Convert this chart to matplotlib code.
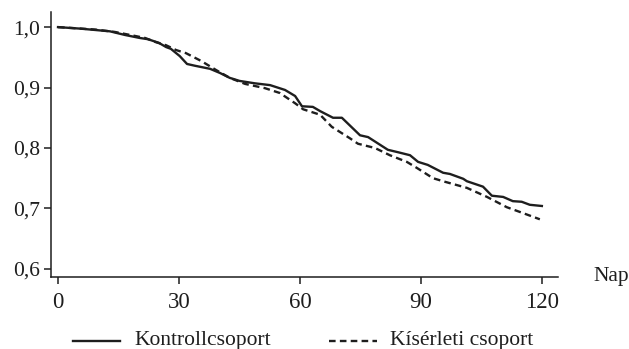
import matplotlib
matplotlib.use("Agg")
import matplotlib.pyplot as plt
from matplotlib.lines import Line2D

plt.rcParams['font.family'] = ['Liberation Serif', 'DejaVu Serif']

# Control group (Kontrollcsoport)
ctrl_day = [0, 5.5, 12.9, 16.6, 20.3, 22.3, 25, 26.8, 28, 30.2, 32, 34, 37.7, 40.2, 42.6, 45,
            48.8, 52.6, 56.3, 58.8, 60.5, 63.2, 65, 68.2, 70.4, 74.9, 76.9, 81.8, 84.3, 87.3,
            89.3, 91.7, 95.5, 97.2, 100.5, 101.4, 105.4, 107.6, 110.4, 112.8, 115, 117, 120]
ctrl_val = [1.0, 0.9975, 0.993, 0.987, 0.982, 0.980, 0.974, 0.967, 0.964, 0.952, 0.939, 0.936,
            0.931, 0.924, 0.916, 0.911, 0.907, 0.904, 0.896, 0.886, 0.869, 0.868, 0.861, 0.850,
            0.850, 0.821, 0.818, 0.797, 0.793, 0.788, 0.777, 0.772, 0.759, 0.757, 0.749, 0.745,
            0.736, 0.721, 0.719, 0.712, 0.711, 0.706, 0.704]

# Experimental group (Kísérleti csoport)
exp_day = [0, 9.2, 14.1, 17.9, 21.6, 24.3, 26.8, 29.3, 31.7, 35.5, 39.2, 42.6, 46.4, 51.3, 55,
           58.8, 60.8, 65, 67.9, 72.4, 74.4, 78.6, 82.3, 86.5, 89, 93, 96, 101.4, 106.4, 111.3,
           114.6, 119.5]
exp_val = [1.0, 0.996, 0.992, 0.987, 0.982, 0.975, 0.970, 0.962, 0.957, 0.944, 0.929, 0.916,
           0.906, 0.899, 0.891, 0.874, 0.864, 0.855, 0.835, 0.816, 0.807, 0.800, 0.788, 0.777,
           0.767, 0.750, 0.744, 0.734, 0.719, 0.702, 0.694, 0.682]

x_ticks = [0, 30, 60, 90, 120]
y_ticks = [0.6, 0.7, 0.8, 0.9, 1.0]
y_tick_labels = ["0,6", "0,7", "0,8", "0,9", "1,0"]

col = "#1e1e1e"
fs = 15.5

fig = plt.figure(figsize=(6.29, 3.49), dpi=100)
ax = fig.add_axes([51/629, 1 - 276.7/349, (558 - 51)/629, (276.7 - 12)/349])

ax.plot(ctrl_day, ctrl_val, color=col, lw=1.7, ls='-')
ax.plot(exp_day, exp_val, color=col, lw=1.7, ls=(0, (2.8, 1.8)))

ax.set_xlim(-1.74, 124.0)
ax.set_ylim(0.587, 1.025)
ax.set_xticks(x_ticks)
ax.set_xticklabels([str(t) for t in x_ticks], fontsize=16.5)
ax.set_yticks(y_ticks)
ax.set_yticklabels(y_tick_labels)

for s in ['top', 'right']:
    ax.spines[s].set_visible(False)
for s in ['left', 'bottom']:
    ax.spines[s].set_color(col)
    ax.spines[s].set_linewidth(1.1)

ax.tick_params(axis='both', direction='out', colors=col, labelcolor=col, width=1.1,
               length=5, labelsize=fs)
ax.tick_params(axis='x', pad=6, labelsize=16.5)
ax.tick_params(axis='y', pad=3)

fig.text(593/629, 1 - 277/349, "Nap", fontsize=fs, color=col, ha='left', va='center')

# legend
ly = 1 - 340.5/349
fig.add_artist(Line2D([73/629, 120/629], [ly, ly], color=col, lw=1.7))
fig.text(134/629, ly, "Kontrollcsoport", fontsize=fs, color=col, ha='left', va='center')
fig.add_artist(Line2D([329/629, 377/629], [ly, ly], color=col, lw=1.7, ls=(0, (2.8, 1.8))))
fig.text(390/629, ly, "Kísérleti csoport", fontsize=fs, color=col, ha='left', va='center')

fig.savefig("out.png", dpi=100)
